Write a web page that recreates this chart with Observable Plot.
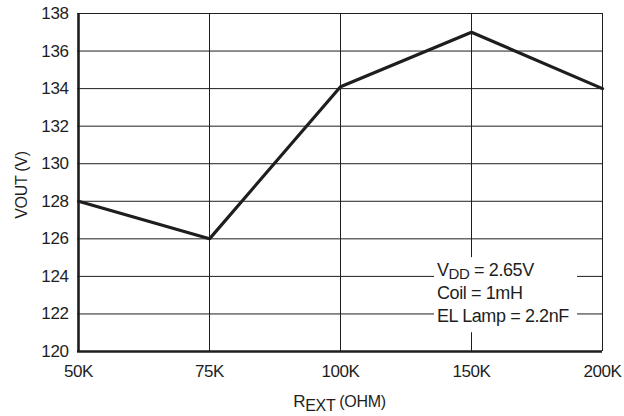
<!DOCTYPE html>
<html><head><meta charset="utf-8">
<script src="https://cdn.jsdelivr.net/npm/d3@7"></script>
<script src="https://cdn.jsdelivr.net/npm/@observablehq/plot@0.6"></script>
<style>
body{margin:0;background:#fff}
#chart svg{display:block}
</style>
</head><body><div id="chart"></div>
<script>
const rExt = ["50K", "75K", "100K", "150K", "200K"];
const vout = [128, 126, 134.1, 137, 134];
const yTicks = [120, 122, 124, 126, 128, 130, 132, 134, 136, 138];
const noteLines = [["V", "DD", " = 2.65V"], ["Coil = 1mH"], ["EL Lamp = 2.2nF"]];
const xTitle = ["R", "EXT", " (OHM)"];
const yTitle = "VOUT (V)";

const FONT = '"Liberation Sans Narrow", "Arial Narrow", "Liberation Sans", Arial, sans-serif';
const INK = "#1e1e1e";
const data = rExt.map((r, i) => ({r, v: vout[i]}));

function noteMark(index, scales, values, dim) {
  const x = scales.x, y = scales.y;
  const g = d3.create("svg:g").attr("font-family", FONT).attr("font-size", 18).attr("fill", INK)
    .attr("text-anchor", "start").attr("letter-spacing", "-0.4");
  const left = x("150K") - 37, right = x("200K") - 25;
  const top = y(125), bottom = y(121);
  g.append("rect").attr("x", left).attr("y", top).attr("width", right - left).attr("height", bottom - top).attr("fill", "#fff");
  const lh = (y(124) - y(125)) * 1.22;
  noteLines.forEach((parts, i) => {
    const t = g.append("text").attr("x", left + 3).attr("y", y(124) + i * lh);
    if (parts.length === 3) {
      t.append("tspan").text(parts[0]);
      t.append("tspan").attr("dy", 3).attr("font-size", 15).text(parts[1]);
      t.append("tspan").attr("dy", -3).text(parts[2]);
    } else t.text(parts[0]);
  });
  return g.node();
}

function titleMark(index, scales, values, dim) {
  const g = d3.create("svg:g").attr("font-family", FONT).attr("font-size", 16).attr("fill", INK).attr("letter-spacing", "-0.3");
  const cx = (dim.marginLeft + dim.width - dim.marginRight) / 2;
  const t = g.append("text").attr("x", cx).attr("y", dim.height - 9).attr("text-anchor", "middle");
  t.append("tspan").attr("font-size", 17).text(xTitle[0]);
  t.append("tspan").attr("dy", 4).attr("font-size", 16).text(xTitle[1]);
  t.append("tspan").attr("dy", -4).text(xTitle[2]);
  const cy = (dim.marginTop + dim.height - dim.marginBottom) / 2 + 3;
  g.append("text").attr("transform", `translate(27,${cy}) rotate(-90)`).attr("text-anchor", "middle").text(yTitle);
  return g.node();
}

const chart = Plot.plot({
  width: 624,
  height: 416,
  marginLeft: 77,
  marginRight: 22,
  marginTop: 13,
  marginBottom: 65,
  style: {fontFamily: FONT, fontSize: "17px", color: INK, background: "#fff", letterSpacing: "-0.4px"},
  x: {type: "point", domain: rExt, padding: 0},
  y: {domain: [120, 138]},
  marks: [
    Plot.ruleY(yTicks, {stroke: INK, strokeWidth: 1}),
    Plot.ruleX(rExt, {stroke: INK, strokeWidth: 1}),
    noteMark,
    Plot.ruleX([rExt[0]], {stroke: INK, strokeWidth: 2.6}),
    Plot.ruleY([120], {stroke: INK, strokeWidth: 2.6}),
    Plot.line(data, {x: "r", y: "v", stroke: INK, strokeWidth: 3.2, strokeLinejoin: "miter"}),
    Plot.axisY(yTicks, {tickSize: 0, tickPadding: 9, label: null, fontSize: 17}),
    Plot.axisX({tickSize: 0, tickPadding: 13, label: null, fontSize: 17}),
    titleMark
  ]
});
document.getElementById("chart").append(chart);
</script>
</body></html>
